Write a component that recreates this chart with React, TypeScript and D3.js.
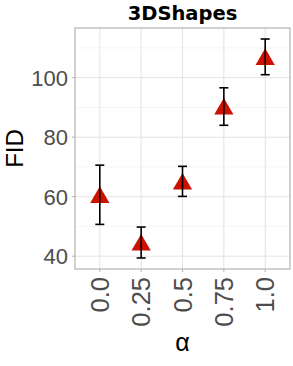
import React from "react";
import * as d3 from "d3";

const categories = ["0.0", "0.25", "0.5", "0.75", "1.0"];
const means = [60.6, 44.6, 65.1, 90.3, 107.0];
const lowers = [50.7, 39.4, 60.1, 84.0, 101.0];
const uppers = [70.6, 49.8, 70.2, 96.6, 113.0];
const yMajorTicks = [40, 60, 80, 100];
const yMinorTicks = [50, 70, 90, 110];

const W = 293;
const H = 366;
const M = { left: 75, right: 3, top: 28, bottom: 97 };

export default function App() {
  const x = d3
    .scalePoint<string>()
    .domain(categories)
    .range([M.left, W - M.right])
    .padding(0.6);
  const y = d3.scaleLinear().domain([35.7, 116.7]).range([H - M.bottom, M.top]);
  const pw = W - M.right - M.left;
  const ph = H - M.bottom - M.top;
  const tri = d3.symbol().type(d3.symbolTriangle).size(160)();
  const font = "'Liberation Sans', Arial, sans-serif";
  return (
    <div style={{ position: "absolute", left: 0, top: 0 }}>
      <svg width={W} height={H} style={{ display: "block", background: "#fff" }}>
        <rect x={M.left} y={M.top} width={pw} height={ph} fill="#fff" />
        {yMinorTicks.map((t) => (
          <line key={"mn" + t} x1={M.left} x2={W - M.right} y1={y(t)} y2={y(t)} stroke="#f3f3f3" strokeWidth={0.8} />
        ))}
        {yMajorTicks.map((t) => (
          <line key={"mj" + t} x1={M.left} x2={W - M.right} y1={y(t)} y2={y(t)} stroke="#e3e3e3" strokeWidth={1} />
        ))}
        {categories.map((c) => (
          <line key={"vx" + c} x1={x(c)} x2={x(c)} y1={M.top} y2={H - M.bottom} stroke="#e3e3e3" strokeWidth={1} />
        ))}
        <rect x={M.left} y={M.top} width={pw} height={ph} fill="none" stroke="#b3b3b3" strokeWidth={1.2} />
        {categories.map((c, i) => (
          <path key={"p" + c} d={tri!} transform={`translate(${x(c)},${y(means[i]) + 2.5})`} fill="#CC1100" />
        ))}
        {categories.map((c, i) => {
          const cx = x(c)!;
          return (
            <g key={"e" + c} stroke="#000" strokeWidth={1.6}>
              <line x1={cx} x2={cx} y1={y(lowers[i])} y2={y(uppers[i])} />
              <line x1={cx - 4.5} x2={cx + 4.5} y1={y(lowers[i])} y2={y(lowers[i])} />
              <line x1={cx - 4.5} x2={cx + 4.5} y1={y(uppers[i])} y2={y(uppers[i])} />
            </g>
          );
        })}
        {yMajorTicks.map((t) => (
          <g key={"yt" + t}>
            <line x1={M.left - 3} x2={M.left} y1={y(t)} y2={y(t)} stroke="#b3b3b3" strokeWidth={1} />
            <text x={M.left - 7} y={y(t)} dy="0.36em" textAnchor="end" fontFamily={font} fontSize={22} fill="#4d4d4d">
              {t}
            </text>
          </g>
        ))}
        {categories.map((c) => (
          <g key={"xt" + c}>
            <line x1={x(c)} x2={x(c)} y1={H - M.bottom} y2={H - M.bottom + 3} stroke="#b3b3b3" strokeWidth={1} />
            <text
              transform={`translate(${x(c)! + 9},${H - M.bottom + 8}) rotate(-90)`}
              textAnchor="end"
              fontFamily={font}
              fontSize={25.5}
              fill="#4d4d4d"
            >
              {c}
            </text>
          </g>
        ))}
        <text x={M.left + pw / 2} y={20} textAnchor="middle" fontFamily="DejaVu Sans, sans-serif" fontWeight="bold" fontSize={19.5} fill="#000">
          3DShapes
        </text>
        <text transform={`translate(23,${M.top + ph / 2}) rotate(-90)`} textAnchor="middle" fontFamily={font} fontSize={24} fill="#000">
          FID
        </text>
        <text x={M.left + pw / 2} y={351} textAnchor="middle" fontFamily={font} fontSize={25} fill="#000">
          α
        </text>
      </svg>
    </div>
  );
}
